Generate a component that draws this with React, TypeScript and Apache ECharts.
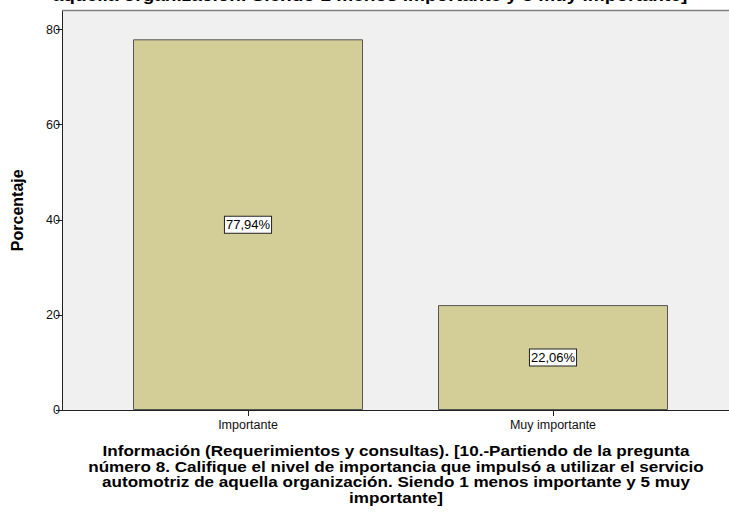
import React, { useEffect, useRef } from "react";
import * as echarts from "echarts";

const categories = ["Importante", "Muy importante"];
const values = [77.94, 22.06];
const yTicks = [0, 20, 40, 60, 80];
const yMax = 84;
const topTitle = "aquella organización. Siendo 1 menos importante y 5 muy importante]";
const xTitleLines = [
  "Información (Requerimientos y consultas). [10.-Partiendo de la pregunta",
  "número 8. Califique el nivel de importancia que impulsó a utilizar el servicio",
  "automotriz de aquella organización. Siendo 1 menos importante y 5 muy",
  "importante]",
];

const FONT = "'Liberation Sans', Arial, sans-serif";

export default function App() {
  const ref = useRef<HTMLDivElement>(null);
  useEffect(() => {
    document.body.style.margin = "0";
    if (!ref.current) return;
    const chart = echarts.init(ref.current, undefined, { renderer: "svg" });
    chart.setOption({
      animation: false,
      backgroundColor: "#ffffff",
      textStyle: { fontFamily: FONT },
      grid: [
        {
          left: 62,
          right: 0,
          top: 10.5,
          bottom: 107,
          show: true,
          backgroundColor: "#f0f0f0",
          borderWidth: 0,
        },
        {
          left: 95.5,
          right: 23.5,
          top: 10.5,
          bottom: 107,
        },
      ],
      xAxis: [
        {
          gridIndex: 0,
          type: "value",
          min: 0,
          max: 1,
          axisLine: { show: true, lineStyle: { color: "#222", width: 1 } },
          axisTick: { show: false },
          axisLabel: { show: false },
          splitLine: { show: false },
        },
        {
          gridIndex: 1,
          type: "category",
          data: categories,
          axisLine: { show: false },
          axisTick: {
            show: true,
            alignWithLabel: true,
            length: 6,
            lineStyle: { color: "#222", width: 1 },
          },
          axisLabel: { fontSize: 12.5, color: "#111", margin: 8, fontFamily: FONT },
        },
      ],
      yAxis: [
        {
          gridIndex: 0,
          type: "value",
          min: 0,
          max: yMax,
          axisLine: { show: true, lineStyle: { color: "#222", width: 1 } },
          axisTick: {
            show: true,
            length: 6,
            customValues: yTicks,
            lineStyle: { color: "#222", width: 1 },
          },
          axisLabel: {
            fontSize: 12.5,
            color: "#111",
            margin: 2,
            customValues: yTicks,
            fontFamily: FONT,
          },
          splitLine: { show: false },
          name: "Porcentaje",
          nameLocation: "middle",
          nameRotate: 90,
          nameGap: 37,
          nameTextStyle: {
            fontSize: 16,
            fontWeight: "bold",
            color: "#000",
            fontFamily: FONT,
          },
        },
        {
          gridIndex: 1,
          type: "value",
          min: 0,
          max: yMax,
          show: false,
        },
      ],
      series: [
        {
          type: "bar",
          xAxisIndex: 1,
          yAxisIndex: 1,
          data: values,
          barWidth: 230,
          itemStyle: {
            color: "#d3ce97",
            borderColor: "#555",
            borderWidth: 1,
          },
          label: {
            show: true,
            position: "inside",
            formatter: (p: any) => p.value.toFixed(2).replace(".", ",") + "%",
            fontSize: 13,
            color: "#000",
            fontFamily: FONT,
            backgroundColor: "#ffffff",
            borderColor: "#222",
            borderWidth: 1,
            padding: [2, 1, 1, 1],
          },
        },
      ],
      graphic: [
        {
          type: "line",
          shape: { x1: 62, y1: 10.5, x2: 729, y2: 10.5 },
          style: { stroke: "#808080", lineWidth: 1.5 },
          z: 10,
        },
        {
          type: "text",
          x: 370,
          y: 4,
          scaleX: 1.19,
          style: {
            text: topTitle,
            font: `bold 16px ${FONT}`,
            fill: "#000",
            textAlign: "center",
            textVerticalAlign: "bottom",
          },
        },
        {
          type: "text",
          x: 396,
          y: 443,
          scaleX: 1.14,
          style: {
            text: xTitleLines.join("\n"),
            font: `bold 15px ${FONT}`,
            lineHeight: 15.5,
            fill: "#000",
            textAlign: "center",
            textVerticalAlign: "top",
          },
        },
      ],
    });
    return () => chart.dispose();
  }, []);
  return <div ref={ref} style={{ width: 729, height: 517 }} />;
}
